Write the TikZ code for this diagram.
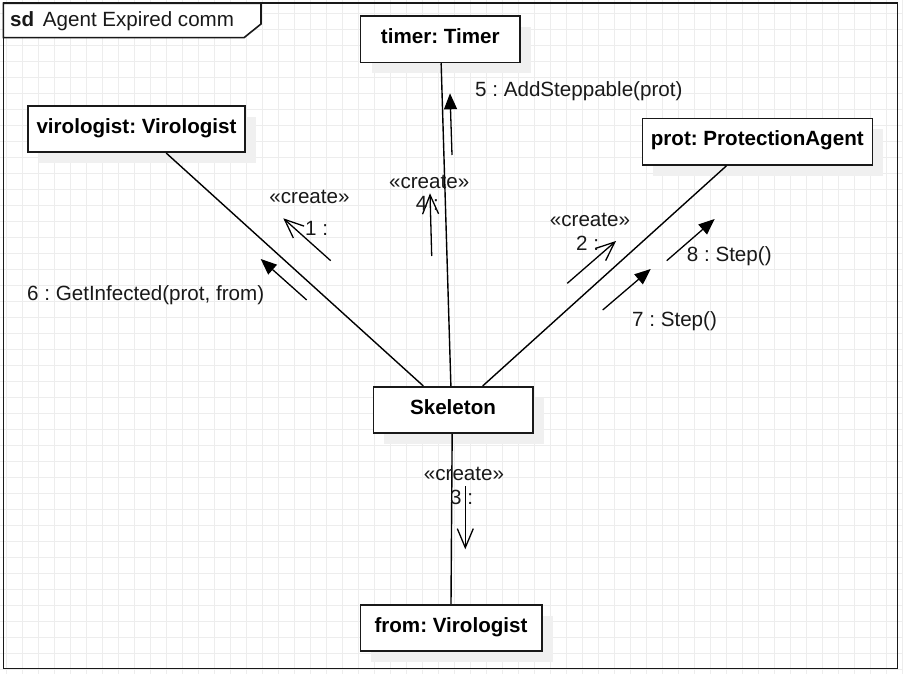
\documentclass[tikz,border=0pt]{standalone}
\usepackage{fontspec}
\setmainfont{Liberation Sans}
\usetikzlibrary{arrows.meta,shadows}
\newcommand{\fsz}{\fontsize{20.6}{24}\selectfont}
\frenchspacing
\begin{document}
\begin{tikzpicture}[x=1pt,y=-1pt,
  gridline/.style={draw=black!7, line width=1pt},
  obj/.style={draw=black!90, line width=1.6pt, fill=white, rectangle, inner sep=0pt,
    minimum height=46.5pt, text height=15pt, text depth=6.5pt, font=\fsz\bfseries,
    general shadow={fill=black!6, shadow xshift=11pt, shadow yshift=-11pt}},
  conn/.style={line width=1.4pt, draw=black},
  msgopen/.style={line width=1.3pt, -{Straight Barb[length=19pt,width=16pt]}},
  msgfill/.style={line width=1.3pt, -{Triangle[length=16pt,width=13pt]}},
  lbl/.style={inner sep=0pt, font=\fsz, text=black!90},
  frame/.style={draw=black!90, line width=1.6pt},
]
\useasboundingbox (0,0) rectangle (903,674);
\fill[white] (0,0) rectangle (903,674);
% grid
\foreach \i in {0,...,56} \draw[gridline] ({6.7+16*\i},0) -- ({6.7+16*\i},674);
\foreach \j in {0,...,41} \draw[gridline] (0,{13.3+16*\j}) -- (903,{13.3+16*\j});
% frame
\draw[frame] (3.3,3.3) rectangle (897.3,668.3);
\draw[frame, fill=white] (3.3,3.3) -- (261,3.3) -- (261,24) -- (244,37.7) -- (3.3,37.7) -- cycle;
\node[lbl, anchor=base west, font=\fsz\bfseries] (sd) at (10,26.7) {sd};
\node[lbl, anchor=base west] (title) at (42.7,26.7) {Agent Expired comm};
% objects
\node[obj, minimum width=217pt] (vir) at (136.5,129) {virologist: Virologist};
\node[obj, minimum width=159.3pt] (timer) at (440.3,39.2) {timer: Timer};
\node[obj, minimum width=230pt] (prot) at (757.3,141.7) {prot: ProtectionAgent};
\node[obj, minimum width=159.4pt] (skel) at (453,410) {Skeleton};
\node[obj, minimum width=181.4pt] (from) at (451,628) {from: Virologist};
% links
\draw[conn] (vir.-39.6) -- (skel.141.2);
\draw[conn] (timer.-88.3) -- (skel.95.6);
\draw[conn] (prot.-142.2) -- (skel.39.1);
\draw[conn] (skel.-92.5) -- (from.90);
% message arrows
\coordinate (m1a) at (330.7,260.7); \coordinate (m1b) at (283.3,218.3);
\coordinate (m6a) at (306.7,300); \coordinate (m6b) at (260.7,259);
\coordinate (m4a) at (431.7,256); \coordinate (m4b) at (430,193.3);
\coordinate (m5a) at (452,155); \coordinate (m5b) at (450,93.3);
\coordinate (m2a) at (567.3,283.3); \coordinate (m2b) at (616,241);
\coordinate (m8a) at (666.7,260.7); \coordinate (m8b) at (714.7,219);
\coordinate (m7a) at (602.7,310); \coordinate (m7b) at (650.7,269);
\coordinate (m3a) at (465.3,486); \coordinate (m3b) at (465.3,549.3);
\draw[msgopen] (m1a) -- (m1b);
\draw[msgfill] (m6a) -- (m6b);
\draw[msgopen] (m4a) -- (m4b);
\draw[msgfill] (m5a) -- (m5b);
\draw[msgopen] (m2a) -- (m2b);
\draw[msgfill] (m8a) -- (m8b);
\draw[msgfill] (m7a) -- (m7b);
\draw[msgopen] (m3a) -- (m3b);
% labels
\node[lbl, anchor=base] (c1) at (309.5,203.3) {«create»};
\node[lbl, anchor=base west] (n1) at (305,235) {1 :};
\node[lbl, anchor=base] (c4) at (429.2,188.3) {«create»};
\node[lbl, anchor=base west] (n4) at (415.7,210.7) {4 :};
\node[lbl, anchor=base] (c2) at (590,226.7) {«create»};
\node[lbl, anchor=base west] (n2) at (576,250.7) {2 :};
\node[lbl, anchor=base] (c3) at (464,480.7) {«create»};
\node[lbl, anchor=base west] (n3) at (450,504) {3 :};
\node[lbl, anchor=base west] (l5) at (475,96.7) {5 : AddSteppable(prot)};
\node[lbl, anchor=base west] (l6) at (27,300.5) {6 : GetInfected(prot, from)};
\node[lbl, anchor=base west] (l8) at (686.7,261.7) {8 : Step()};
\node[lbl, anchor=base west] (l7) at (632,326) {7 : Step()};
\end{tikzpicture}
\end{document}
